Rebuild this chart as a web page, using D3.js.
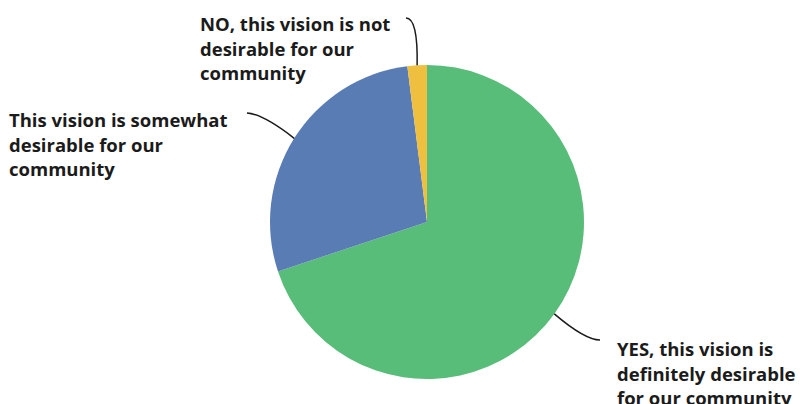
<!DOCTYPE html>
<html>
<head>
<meta charset="utf-8">
<script src="https://cdn.jsdelivr.net/npm/d3@7"></script>
<style>
  html, body { margin: 0; padding: 0; background: #fff; }
  svg { display: block; }
  .lbl { font-family: "Open Sans", sans-serif; font-weight: 700; font-size: 18.5px; fill: #1b1b1b; }
</style>
</head>
<body>
<svg id="chart" width="800" height="404"></svg>
<script>
// Survey answers, share of respondents (%)
const categories = [
  "YES, this vision is definitely desirable for our community",
  "This vision is somewhat desirable for our community",
  "NO, this vision is not desirable for our community"
];
const values = [69.9, 28.1, 2.0];
const colors = ["#58bd78", "#5a7cb4", "#efbf40"];

// Wrapped label lines for each answer
const labelLines = [
  ["YES, this vision is", "definitely desirable", "for our community"],
  ["This vision is somewhat", "desirable for our", "community"],
  ["NO, this vision is not", "desirable for our", "community"]
];

const svg = d3.select("#chart");
const cx = 427, cy = 222, r = 157;

const pie = d3.pie().sort(null).value(d => d)(values);
const arc = d3.arc().innerRadius(0).outerRadius(r);

const g = svg.append("g").attr("transform", `translate(${cx},${cy})`);
g.selectAll("path.slice")
  .data(pie)
  .join("path")
  .attr("class", "slice")
  .attr("d", arc)
  .attr("fill", (d, i) => colors[i]);

// Label layout: text origin (x, first line center y), leader end, curve control
const labelLayout = [
  { x: 617, y: 350, end: [600, 340], ctrl: [585, 340] },
  { x: 9,   y: 121, end: [247, 113], ctrl: [263, 114] },
  { x: 200, y: 25,  end: [406, 18],  ctrl: [418, 18] }
];
const lineGap = 24.5;

pie.forEach((d, i) => {
  const mid = (d.startAngle + d.endAngle) / 2;
  const sx = cx + Math.sin(mid) * r;
  const sy = cy - Math.cos(mid) * r;
  const L = labelLayout[i];
  const p = d3.path();
  p.moveTo(sx, sy);
  p.quadraticCurveTo(L.ctrl[0], L.ctrl[1], L.end[0], L.end[1]);
  svg.append("path")
    .attr("d", p.toString())
    .attr("fill", "none")
    .attr("stroke", "#1b1b1b")
    .attr("stroke-width", 1.5);

  const t = svg.append("text").attr("class", "lbl");
  labelLines[i].forEach((s, k) => {
    t.append("tspan")
      .attr("x", L.x)
      .attr("y", L.y + k * lineGap)
      .attr("dy", "0.35em")
      .text(s);
  });
});
</script>
</body>
</html>
